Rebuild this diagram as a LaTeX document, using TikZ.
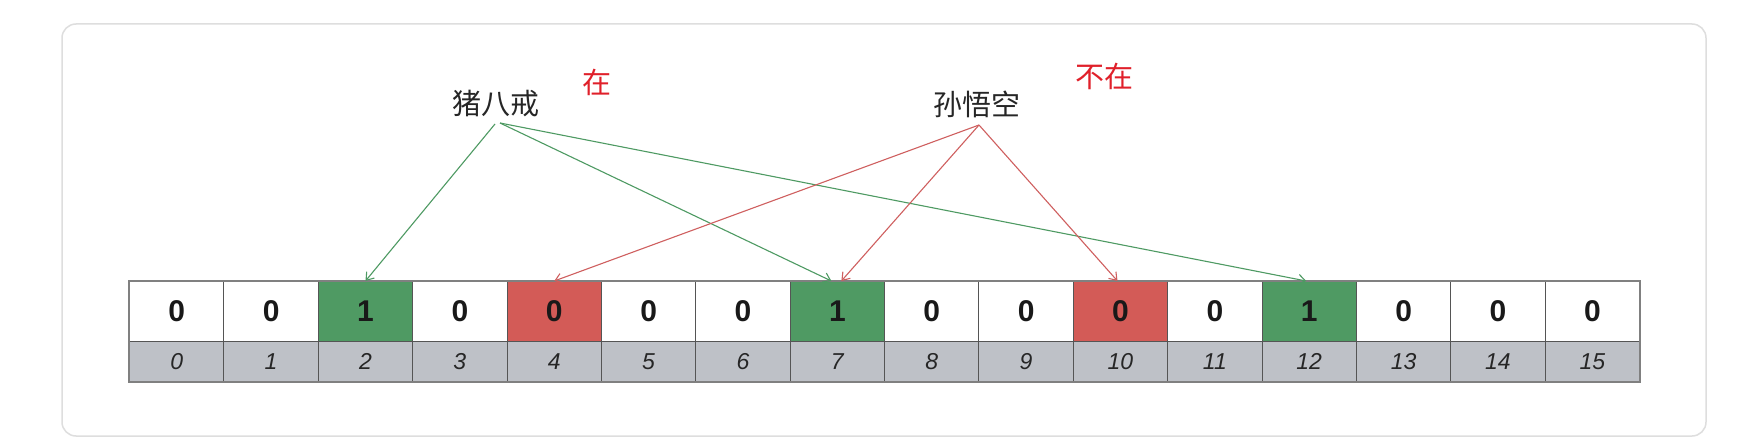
\documentclass[tikz,border=0pt]{standalone}
\usepackage{fontspec}
\setmainfont{Liberation Sans}
\newfontfamily\cjkfont{Noto Sans CJK SC}
\usetikzlibrary{arrows.meta}
\definecolor{cellgreen}{HTML}{4F9A63}
\definecolor{cellred}{HTML}{D35B57}
\definecolor{idxgray}{HTML}{BEC1C7}
\definecolor{gridline}{HTML}{555555}
\definecolor{arrgreen}{HTML}{4E9A63}
\definecolor{arrred}{HTML}{CF5F5F}
\definecolor{labred}{HTML}{E0202A}
\definecolor{panel}{HTML}{DEDEDE}
\tikzset{
  valcell/.style={draw=gridline, line width=1.1pt, minimum width=94.375pt, minimum height=60pt, inner sep=0pt, anchor=north west,
    font=\fontsize{30}{32}\selectfont\bfseries, text=black!90},
  idxcell/.style={draw=gridline, line width=1.1pt, fill=idxgray, minimum width=94.375pt, minimum height=40pt, inner sep=0pt, anchor=north west,
    font=\fontsize{23}{26}\selectfont\itshape, text=black!85},
  personlab/.style={font=\cjkfont\fontsize{29}{32}\selectfont, text=black!85, inner sep=0pt},
  redlab/.style={font=\cjkfont\fontsize{29}{32}\selectfont, text=labred, inner sep=0pt},
  garrow/.style={draw=arrgreen, line width=1.1pt, -{Straight Barb[length=7pt,width=10pt]}},
  rarrow/.style={draw=arrred, line width=1.1pt, -{Straight Barb[length=7pt,width=10pt]}},
}
\begin{document}
\begin{tikzpicture}[x=1pt,y=-1pt]
\useasboundingbox (0,0) rectangle (1757,441);
\fill[white] (0,0) rectangle (1757,441);
\draw[panel, line width=1.5pt, rounded corners=14pt] (62,24) rectangle (1706,436);
% cells
\foreach \i/\v/\f in {0/0/white,1/0/white,2/1/cellgreen,3/0/white,4/0/cellred,5/0/white,6/0/white,7/1/cellgreen,8/0/white,9/0/white,10/0/cellred,11/0/white,12/1/cellgreen,13/0/white,14/0/white,15/0/white}{
  \node[valcell, fill=\f] (c\i) at ({129+\i*94.375},281) {\v};
  \node[idxcell] (i\i) at ({129+\i*94.375},341) {\i};
}
\draw[gray, line width=2pt] (c0.north west) rectangle (i15.south east);
% labels
\node[personlab] (zhu) at (496,104) {猪八戒};
\node[personlab] (sun) at (977,104) {孙悟空};
\node[redlab] (zai) at (597,82) {在};
\node[redlab] (buzai) at (1104,76) {不在};
\coordinate (zs) at (495,124);
\coordinate (zt) at (500,123);
\coordinate (ss) at (979,125);
% arrows
\draw[garrow] (zs) -- (c2.north);
\draw[garrow] (zt) -- ([xshift=-6pt]c7.north);
\draw[garrow] (zt) -- ([xshift=-3pt]c12.north);
\draw[rarrow] (ss) -- (c4.north);
\draw[rarrow] (ss) -- ([xshift=4pt]c7.north);
\draw[rarrow] (ss) -- ([xshift=-3pt]c10.north);
\end{tikzpicture}
\end{document}
